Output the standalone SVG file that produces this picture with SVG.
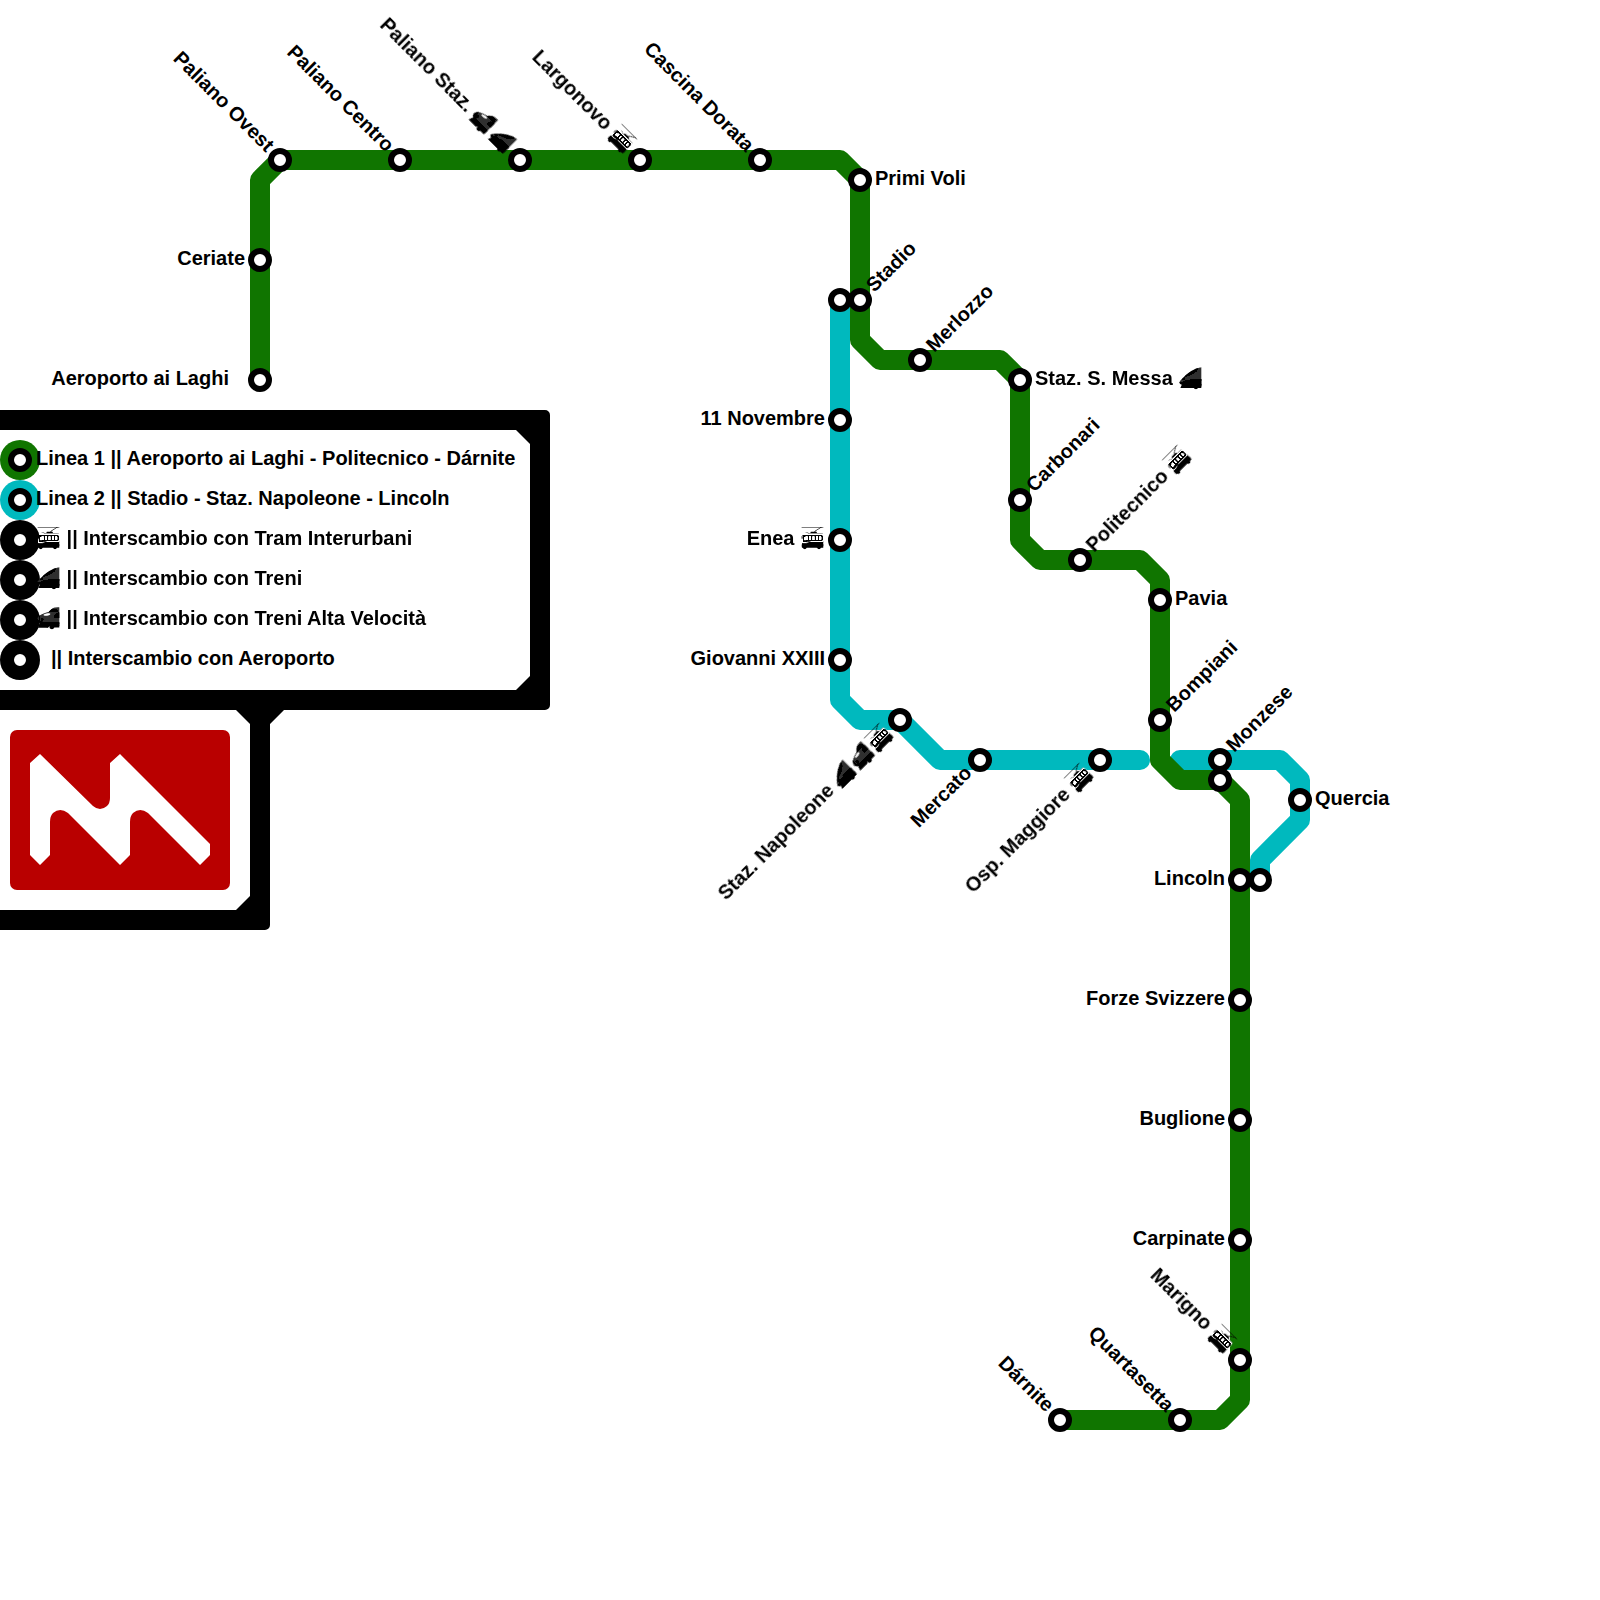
<svg xmlns="http://www.w3.org/2000/svg" width="1600" height="1600" viewBox="0 0 1600 1600">
<style>
.l{fill:none;stroke-width:20;stroke-linecap:round;stroke-linejoin:round}
.s{fill:#fff;stroke:#000;stroke-width:6}
text{font-family:"Liberation Sans",sans-serif;font-weight:bold;font-size:20px;fill:#000}
.e{text-anchor:end}
.m{filter:url(#mono)}
.t{filter:url(#tram)}
</style>
<defs>
<filter id="mono" x="-5%" y="-20%" width="110%" height="140%" color-interpolation-filters="sRGB">
<feColorMatrix type="matrix" values="3 6 1 0 -8.6  3 6 1 0 -8.6  3 6 1 0 -8.6  0 0 0 1 0"/>
</filter>
<filter id="tram" x="-5%" y="-20%" width="110%" height="140%" color-interpolation-filters="sRGB">
<feColorMatrix type="matrix" values="1.6 3.6 0.6 0 -3.9  1.6 3.6 0.6 0 -3.9  1.6 3.6 0.6 0 -3.9  0 0 0 1 0"/>
</filter>
</defs>
<rect width="1600" height="1600" fill="#fff"/>
<g id="legend-frame">
<path d="M-20,410H545a5,5 0 0 1 5,5V705a5,5 0 0 1 -5,5H284L270,724V925a5,5 0 0 1 -5,5H-20Z" fill="#000"/>
<path d="M-20,430H516L530,444V676L516,690H-20Z" fill="#fff"/>
<path d="M-20,710H236L250,724V896L236,910H-20Z" fill="#fff"/>
</g>
<g id="logo">
<rect x="10" y="730" width="220" height="160" rx="7" fill="#b90000"/>
<path d="M30,763L40,754L93,806Q100,812 107,806Q110,803 110,798V763L120,754L210,844V855L200,865L148,813Q140,807 133,813Q130,816 130,822V855L120,865L68,813Q60,807 53,813Q50,816 50,822V855L40,865L30,855Z" fill="#fff"/>
</g>
<g id="connectors">
<path class="l" stroke="#00b9be" d="M840,300V700L860,720H900L940,760H1140"/>
<path class="l" stroke="#00b9be" d="M1180,760H1280L1300,780V820L1260,860V880"/>
<path class="l" stroke="#107500" d="M260,380V180L280,160H840L860,180V340L880,360H1000L1020,380V540L1040,560H1140L1160,580V760L1180,780H1220L1240,800V1400L1220,1420H1060"/>
</g>
<g id="legend">
<circle cx="20" cy="460" r="20" fill="#107500"/><circle class="s" cx="20" cy="460" r="9"/>
<circle cx="20" cy="500" r="20" fill="#00b9be"/><circle class="s" cx="20" cy="500" r="9"/>
<circle cx="20" cy="540" r="20"/><circle class="s" cx="20" cy="540" r="9"/>
<circle cx="20" cy="580" r="20"/><circle class="s" cx="20" cy="580" r="9"/>
<circle cx="20" cy="620" r="20"/><circle class="s" cx="20" cy="620" r="9"/>
<circle cx="20" cy="660" r="20"/><circle class="s" cx="20" cy="660" r="9"/>
<text x="36" y="465">Linea 1 || Aeroporto ai Laghi - Politecnico - Dárnite</text>
<text x="36" y="505">Linea 2 || Stadio - Staz. Napoleone - Lincoln</text>
<text class="t" x="36" y="545">🚎 || Interscambio con Tram Interurbani</text>
<text class="m" x="36" y="585">🚄 || Interscambio con Treni</text>
<text class="m" x="36" y="625">🚅 || Interscambio con Treni Alta Velocità</text>
<text x="51" y="665">|| Interscambio con Aeroporto</text>
</g>
<g id="n-paliano-ovest"><circle class="s" cx="280" cy="160" r="9"/><text class="e" transform="translate(280 160) rotate(45)" x="-15" y="5">Paliano Ovest</text></g>
<g id="n-paliano-centro"><circle class="s" cx="400" cy="160" r="9"/><text class="e" transform="translate(400 160) rotate(45)" x="-15" y="5">Paliano Centro</text></g>
<g id="n-paliano-staz"><circle class="s" cx="520" cy="160" r="9"/><text class="e m" transform="translate(520 160) rotate(45)" x="-15" y="5">Paliano Staz. <tspan dx="-1">🚅</tspan> <tspan dx="-4">🚄</tspan></text></g>
<g id="n-largonovo"><circle class="s" cx="640" cy="160" r="9"/><text class="e t" transform="translate(640 160) rotate(45)" x="-15" y="5">Largonovo 🚎</text></g>
<g id="n-cascina-dorata"><circle class="s" cx="760" cy="160" r="9"/><text class="e" transform="translate(760 160) rotate(45)" x="-15" y="5">Cascina Dorata</text></g>
<g id="n-primi-voli"><circle class="s" cx="860" cy="180" r="9"/><text x="875" y="185">Primi Voli</text></g>
<g id="n-stadio"><circle class="s" cx="840" cy="300" r="9"/><circle class="s" cx="860" cy="300" r="9"/><text transform="translate(860 300) rotate(-45)" x="15" y="5">Stadio</text></g>
<g id="n-merlozzo"><circle class="s" cx="920" cy="360" r="9"/><text transform="translate(920 360) rotate(-45)" x="15" y="5">Merlozzo</text></g>
<g id="n-staz-messa"><circle class="s" cx="1020" cy="380" r="9"/><text class="m" x="1035" y="385">Staz. S. Messa 🚄</text></g>
<g id="n-carbonari"><circle class="s" cx="1020" cy="500" r="9"/><text transform="translate(1020 500) rotate(-45)" x="15" y="5">Carbonari</text></g>
<g id="n-politecnico"><circle class="s" cx="1080" cy="560" r="9"/><text class="t" transform="translate(1080 560) rotate(-45)" x="15" y="5">Politecnico 🚎</text></g>
<g id="n-pavia"><circle class="s" cx="1160" cy="600" r="9"/><text x="1175" y="605">Pavia</text></g>
<g id="n-bompiani"><circle class="s" cx="1160" cy="720" r="9"/><text transform="translate(1160 720) rotate(-45)" x="15" y="5">Bompiani</text></g>
<g id="n-monzese"><circle class="s" cx="1220" cy="760" r="9"/><circle class="s" cx="1220" cy="780" r="9"/><text transform="translate(1220 760) rotate(-45)" x="15" y="5">Monzese</text></g>
<g id="n-quercia"><circle class="s" cx="1300" cy="800" r="9"/><text x="1315" y="805">Quercia</text></g>
<g id="n-lincoln"><circle class="s" cx="1240" cy="880" r="9"/><circle class="s" cx="1260" cy="880" r="9"/><text class="e" x="1225" y="885">Lincoln</text></g>
<g id="n-forze"><circle class="s" cx="1240" cy="1000" r="9"/><text class="e" x="1225" y="1005">Forze Svizzere</text></g>
<g id="n-buglione"><circle class="s" cx="1240" cy="1120" r="9"/><text class="e" x="1225" y="1125">Buglione</text></g>
<g id="n-carpinate"><circle class="s" cx="1240" cy="1240" r="9"/><text class="e" x="1225" y="1245">Carpinate</text></g>
<g id="n-marigno"><circle class="s" cx="1240" cy="1360" r="9"/><text class="e t" transform="translate(1240 1360) rotate(45)" x="-15" y="5">Marigno 🚎</text></g>
<g id="n-quartasetta"><circle class="s" cx="1180" cy="1420" r="9"/><text class="e" transform="translate(1180 1420) rotate(45)" x="-15" y="5">Quartasetta</text></g>
<g id="n-darnite"><circle class="s" cx="1060" cy="1420" r="9"/><text class="e" transform="translate(1060 1420) rotate(45)" x="-15" y="5">Dárnite</text></g>
<g id="n-mercato"><circle class="s" cx="980" cy="760" r="9"/><text class="e" transform="translate(980 760) rotate(-45)" x="-15" y="5">Mercato</text></g>
<g id="n-osp-maggiore"><circle class="s" cx="1100" cy="760" r="9"/><text class="e t" transform="translate(1100 760) rotate(-45)" x="-15" y="5">Osp. Maggiore 🚎</text></g>
<g id="n-staz-napoleone"><circle class="s" cx="900" cy="720" r="9"/><text class="e m" transform="translate(900 720) rotate(-45)" x="-41.500" y="5">Staz. Napoleone <tspan dx="-1">🚄</tspan> <tspan dx="-5">🚅</tspan></text><text class="e t" transform="translate(900 720) rotate(-45)" x="-15" y="5">🚎</text></g>
<g id="n-giovanni"><circle class="s" cx="840" cy="660" r="9"/><text class="e" x="825" y="665">Giovanni XXIII</text></g>
<g id="n-enea"><circle class="s" cx="840" cy="540" r="9"/><text class="e t" x="825" y="545">Enea 🚎</text></g>
<g id="n-11-novembre"><circle class="s" cx="840" cy="420" r="9"/><text class="e" x="825" y="425">11 Novembre</text></g>
<g id="n-ceriate"><circle class="s" cx="260" cy="260" r="9"/><text class="e" x="245" y="265">Ceriate</text></g>
<g id="n-aeroporto"><circle class="s" cx="260" cy="380" r="9"/><text class="e" x="229" y="385">Aeroporto ai Laghi</text></g>
</svg>
